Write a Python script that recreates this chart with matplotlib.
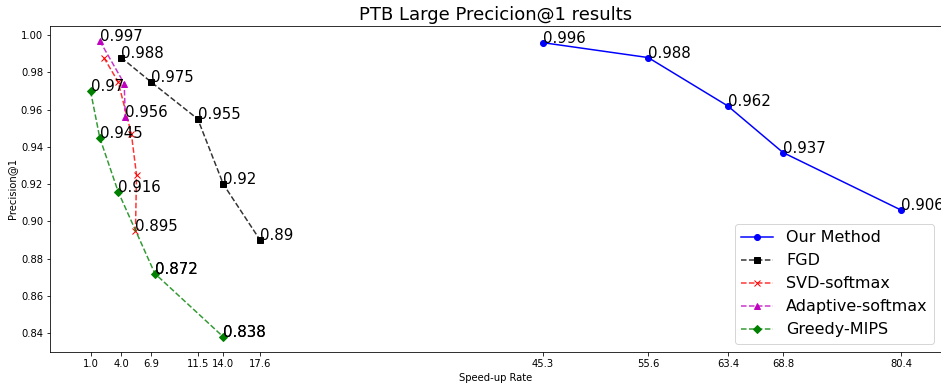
import matplotlib
matplotlib.use('Agg')
import matplotlib.pyplot as plt
from matplotlib.colors import to_rgba

# data
our_x = [45.3, 55.6, 63.4, 68.8, 80.4]
our_y = [0.996, 0.988, 0.962, 0.937, 0.906]

fgd_x = [4.0, 6.9, 11.5, 14.0, 17.6]
fgd_y = [0.988, 0.975, 0.955, 0.92, 0.89]

svd_x = [2.3, 3.7, 5.0, 5.5, 5.4]
svd_y = [0.988, 0.975, 0.947, 0.925, 0.895]

ada_x = [1.9, 4.3, 4.4]
ada_y = [0.997, 0.974, 0.956]

mips_x = [1.0, 1.9, 3.7, 7.3, 14.0]
mips_y = [0.97, 0.945, 0.916, 0.872, 0.838]

xtick_vals = [1.0, 4.0, 6.9, 11.5, 14.0, 17.6, 45.3, 55.6, 63.4, 68.8, 80.4]

# which points carry a value label
labels = [
    (our_x, our_y, [0, 1, 2, 3, 4]),
    (fgd_x, fgd_y, [0, 1, 2, 3, 4]),
    (svd_x, svd_y, [4]),
    (ada_x, ada_y, [0, 2]),
    (mips_x, mips_y, [0, 1, 2, 3, 4, 3, 4]),
]

fig = plt.figure(figsize=(941 / 72, 383 / 72), dpi=72)
ax = fig.add_axes([50 / 941, 31.3 / 383, 892 / 941, 325.7 / 383])


def dashed(x, y, marker, c, name):
    # lighter dashed line, solid marker
    ax.plot(x, y, marker=marker, ls='--', color=to_rgba(c, 0.8),
            mfc=c, mec=c, label=name)


ax.plot(our_x, our_y, marker='o', color='b', label='Our Method')
dashed(fgd_x, fgd_y, 's', 'k', 'FGD')
dashed(svd_x, svd_y, 'x', 'r', 'SVD-softmax')
dashed(ada_x, ada_y, '^', 'm', 'Adaptive-softmax')
dashed(mips_x, mips_y, 'D', 'g', 'Greedy-MIPS')

for xs, ys, idx in labels:
    for i in idx:
        ax.annotate(str(ys[i]), (xs[i], ys[i]), fontsize=15)

ax.set_xticks(xtick_vals)
ax.set_xticklabels([str(v) for v in xtick_vals])
ax.tick_params(labelsize=10)
ax.set_xlabel('Speed-up Rate', fontsize=10)
ax.set_ylabel('Precision@1', fontsize=10)
ax.set_title('PTB Large Precicion@1 results', fontsize=18)
ax.legend(loc='lower right', fontsize=16)

fig.savefig('out.png', dpi=72)
